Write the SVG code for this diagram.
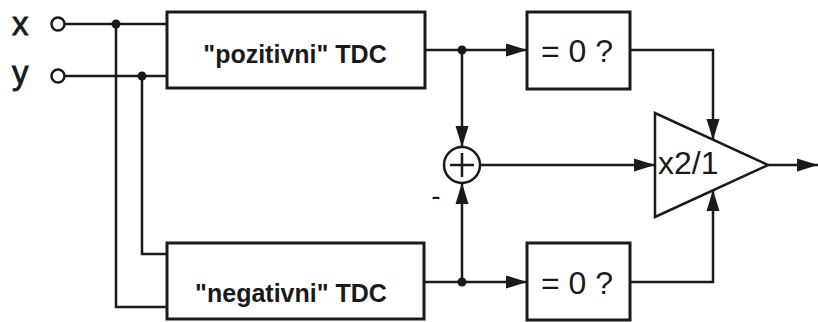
<svg xmlns="http://www.w3.org/2000/svg" width="818" height="322" viewBox="0 0 818 322">
<style>
.ln{fill:none;stroke:#1a1a1a;stroke-width:2.5}
.bx{fill:#fff;stroke:#1a1a1a;stroke-width:3}
.dot{fill:#1a1a1a}
.t{font-family:"Liberation Sans",Arial,sans-serif;fill:#1a1a1a}
.io{font-family:"Liberation Sans",Arial,sans-serif;fill:#1a1a1a;stroke:#1a1a1a;stroke-width:0.8;font-size:33px}
.tb{font-family:"Liberation Sans",Arial,sans-serif;font-weight:bold;font-size:25px;fill:#1a1a1a;text-anchor:middle}
.arr{marker-end:url(#ah)}
</style>
<defs>
<marker id="ah" markerUnits="userSpaceOnUse" markerWidth="22" markerHeight="14" refX="21" refY="6.5" orient="auto" viewBox="0 0 22 13">
<path d="M0,0 L21,6.5 L0,13 Z" fill="#1a1a1a"/>
</marker>
</defs>
<g id="connectors">
<path class="ln" d="M64.5,24 H167"/>
<path class="ln" d="M64.5,76 H167"/>
<path class="ln" d="M116,24 V307 H167"/>
<path class="ln" d="M142,76 V254 H167"/>
<path class="ln arr" d="M425,50 H527"/>
<path class="ln arr" d="M424,282 H527"/>
<path class="ln arr" d="M462,50 V147"/>
<path class="ln arr" d="M462,282 V183"/>
<path class="ln arr" d="M480,165 H655"/>
<path class="ln arr" d="M630,50 H713 V140"/>
<path class="ln arr" d="M630,282 H713 V190"/>
<path class="ln arr" d="M768,165 H818"/>
<circle class="dot" cx="116" cy="24" r="4.5"/>
<circle class="dot" cx="142" cy="76" r="4.5"/>
<circle class="dot" cx="462" cy="50" r="4.5"/>
<circle class="dot" cx="462" cy="282" r="4.5"/>
</g>
<g id="input-x">
<text class="io" x="12" y="35">x</text>
<circle cx="58" cy="24" r="6.5" fill="#fff" stroke="#1a1a1a" stroke-width="2.5"/>
</g>
<g id="input-y">
<text class="io" x="12" y="84">y</text>
<circle cx="58" cy="76" r="6.5" fill="#fff" stroke="#1a1a1a" stroke-width="2.5"/>
</g>
<g id="tdc-pos">
<rect class="bx" x="167" y="12" width="258" height="76"/>
<text class="tb" x="295" y="63">"pozitivni" TDC</text>
</g>
<g id="tdc-neg">
<rect class="bx" x="167" y="243" width="257" height="76"/>
<text class="tb" x="291" y="302">"negativni" TDC</text>
</g>
<g id="zero-top">
<rect class="bx" x="527" y="12" width="103" height="77"/>
<text class="t" x="577" y="62" font-size="32" text-anchor="middle">= 0 ?</text>
</g>
<g id="zero-bot">
<rect class="bx" x="527" y="243" width="103" height="77"/>
<text class="t" x="577" y="294" font-size="32" text-anchor="middle">= 0 ?</text>
</g>
<g id="sum">
<circle cx="462" cy="165" r="18" fill="#fff" stroke="#1a1a1a" stroke-width="2.5"/>
<path class="ln" d="M450,165 H474 M462,153 V177"/>
<text class="t" x="436" y="205" font-size="28" text-anchor="middle">-</text>
</g>
<g id="amp">
<path d="M655,113 L655,217 L768,165 Z" fill="#fff" stroke="#1a1a1a" stroke-width="2.5"/>
<text class="t" x="658" y="174" font-size="32">x2/1</text>
</g>
</svg>
